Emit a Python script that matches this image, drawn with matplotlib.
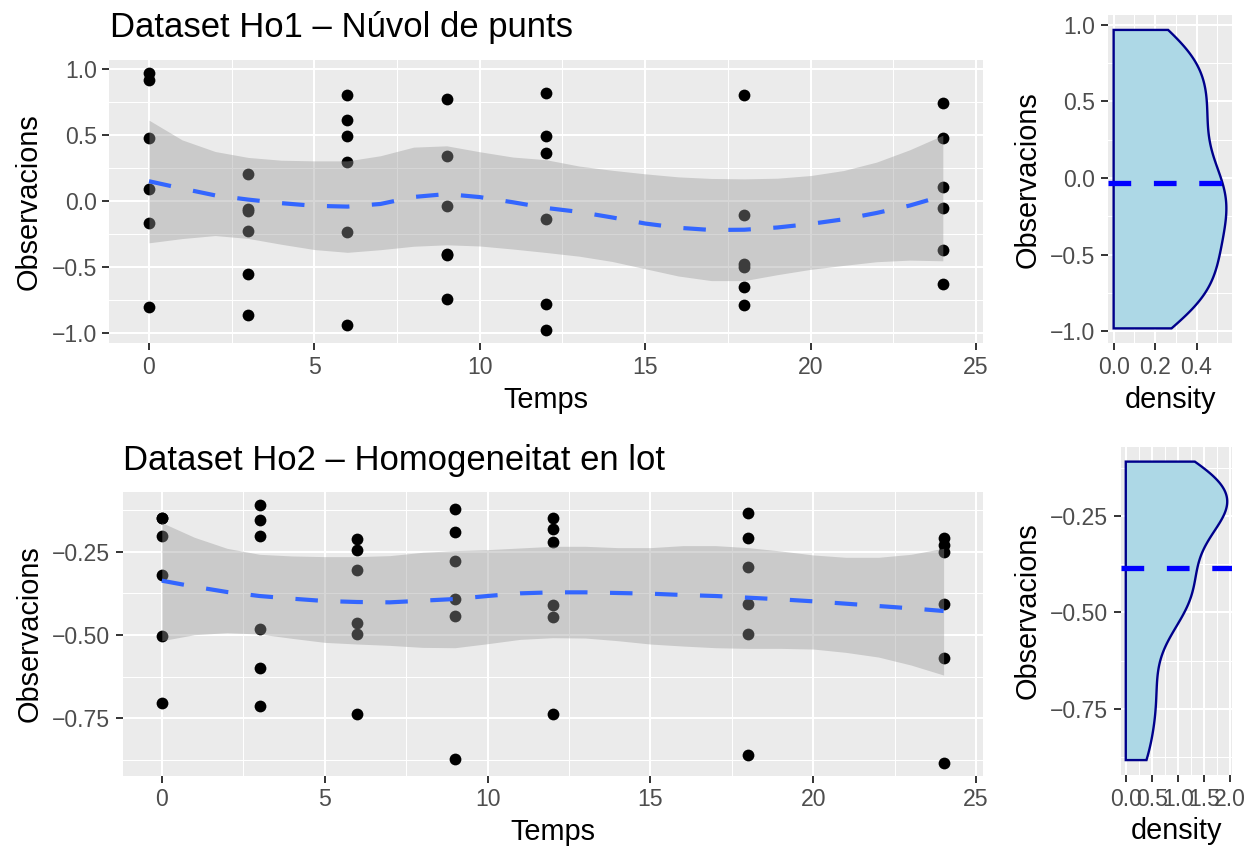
import numpy as np
import matplotlib
matplotlib.use("Agg")
import matplotlib.pyplot as plt
from matplotlib.ticker import MultipleLocator, FuncFormatter

plt.rcParams['font.family'] = ['Liberation Sans', 'DejaVu Sans']

# Temps de mesura
temps = [0, 3, 6, 9, 12, 18, 24]

# Dataset Ho1: observacions per cada temps
ho1_obs = [
    [0.967, 0.912, 0.475, 0.085, -0.168, -0.808],
    [0.203, -0.062, -0.082, -0.231, -0.556, -0.868],
    [0.800, 0.611, 0.486, 0.291, -0.238, -0.944],
    [0.773, 0.339, -0.042, -0.405, -0.415, -0.743],
    [0.811, 0.488, 0.362, -0.140, -0.785, -0.982],
    [0.803, -0.110, -0.480, -0.505, -0.652, -0.790],
    [0.740, 0.473, 0.104, -0.054, -0.377, -0.632],
]

# Dataset Ho2: observacions per cada temps
ho2_obs = [
    [-0.150, -0.150, -0.203, -0.320, -0.503, -0.703],
    [-0.109, -0.154, -0.203, -0.481, -0.599, -0.712],
    [-0.212, -0.245, -0.304, -0.464, -0.497, -0.737],
    [-0.122, -0.192, -0.278, -0.392, -0.443, -0.871],
    [-0.148, -0.182, -0.220, -0.409, -0.445, -0.736],
    [-0.134, -0.209, -0.295, -0.406, -0.496, -0.859],
    [-0.209, -0.230, -0.250, -0.406, -0.570, -0.883],
]

# Corba loess i interval de confianca (llegits del grafic)
smooth_x = list(range(25))
ho1_fit = [0.147, 0.092, 0.040, 0.008, -0.019, -0.039, -0.045, -0.025, 0.028, 0.050,
           0.027, -0.012, -0.055, -0.085, -0.127, -0.173, -0.205, -0.222, -0.220, -0.203,
           -0.176, -0.141, -0.093, -0.037, 0.036]
ho1_hi = [0.609, 0.460, 0.372, 0.327, 0.306, 0.301, 0.301, 0.340, 0.405, 0.415,
          0.370, 0.330, 0.310, 0.262, 0.230, 0.203, 0.180, 0.168, 0.165, 0.170,
          0.190, 0.228, 0.292, 0.385, 0.495]
ho1_lo = [-0.319, -0.287, -0.264, -0.286, -0.330, -0.370, -0.391, -0.371, -0.345, -0.334,
          -0.343, -0.366, -0.392, -0.420, -0.460, -0.515, -0.570, -0.605, -0.605, -0.560,
          -0.520, -0.490, -0.462, -0.450, -0.455]
ho2_fit = [-0.337, -0.355, -0.371, -0.383, -0.391, -0.398, -0.401, -0.402, -0.397, -0.392,
           -0.383, -0.375, -0.372, -0.372, -0.374, -0.376, -0.380, -0.383, -0.388, -0.393,
           -0.399, -0.406, -0.413, -0.420, -0.428]
ho2_hi = [-0.163, -0.207, -0.240, -0.258, -0.263, -0.265, -0.265, -0.262, -0.252, -0.247,
          -0.244, -0.239, -0.234, -0.234, -0.238, -0.238, -0.232, -0.232, -0.238, -0.248,
          -0.260, -0.267, -0.267, -0.258, -0.240]
ho2_lo = [-0.517, -0.499, -0.493, -0.497, -0.510, -0.522, -0.527, -0.531, -0.537, -0.538,
          -0.526, -0.513, -0.508, -0.509, -0.517, -0.527, -0.533, -0.538, -0.540, -0.540,
          -0.542, -0.552, -0.566, -0.590, -0.620]

W, H = 1257, 846
fig = plt.figure(figsize=(W / 100, H / 100), dpi=100)


def px_axes(left, top, right, bottom):
    return fig.add_axes([left / W, (H - bottom) / H, (right - left) / W, (bottom - top) / H])


def minus(fmt):
    return FuncFormatter(lambda v, p: (fmt % v).replace('-', '\u2212'))


def style(ax):
    ax.set_facecolor('#EBEBEB')
    for s in ax.spines.values():
        s.set_visible(False)
    ax.grid(which='major', color='white', lw=1.5)
    ax.grid(which='minor', color='white', lw=0.75)
    ax.set_axisbelow(True)
    ax.tick_params(which='major', length=5, width=1.4, color='#333333',
                   labelcolor='#4D4D4D', labelsize=16.6, pad=4)
    ax.tick_params(which='minor', length=0)


def expand(lo, hi, f=0.05):
    d = (hi - lo) * f
    return lo - d, hi + d


def nrd0(x):
    sd = np.std(x, ddof=1)
    q75, q25 = np.percentile(x, [75, 25])
    return 0.9 * min(sd, (q75 - q25) / 1.34) * len(x) ** -0.2


def kde(x, grid):
    bw = nrd0(x)
    z = (grid[:, None] - x[None, :]) / bw
    return np.exp(-0.5 * z ** 2).sum(1) / (len(x) * bw * np.sqrt(2 * np.pi))


def scatter_panel(ax, obs, fit, lo, hi, ymaj, yfmt):
    style(ax)
    for t, vals in zip(temps, obs):
        ax.scatter([t] * len(vals), vals, s=72, color='black', lw=0, zorder=2)
    ax.fill_between(smooth_x, lo, hi, color='#999999', alpha=0.4, lw=0, zorder=3)
    ax.plot(smooth_x, fit, color='#3366FF', lw=3, dashes=(5.4, 5.4), zorder=4)
    allv = np.concatenate(obs)
    ax.set_xlim(*expand(0, 24))
    ax.set_ylim(*expand(min(allv.min(), min(lo)), max(allv.max(), max(hi))))
    ax.xaxis.set_major_locator(MultipleLocator(5))
    ax.xaxis.set_minor_locator(MultipleLocator(2.5))
    ax.yaxis.set_major_locator(MultipleLocator(ymaj))
    ax.yaxis.set_minor_locator(MultipleLocator(ymaj / 2))
    ax.yaxis.set_major_formatter(minus(yfmt))
    ax.set_xlabel('Temps', fontsize=20.8, labelpad=5)
    ax.set_ylabel('Observacions', fontsize=20.8, labelpad=6)


def density_panel(ax, obs, xmaj, ymaj, yfmt):
    style(ax)
    allv = np.concatenate(obs)
    grid = np.linspace(allv.min(), allv.max(), 512)
    d = kde(allv, grid)
    px = np.concatenate([[0], d, [0]])
    py = np.concatenate([[grid[0]], grid, [grid[-1]]])
    ax.fill(px, py, facecolor='#ADD8E6', edgecolor='#00008B', lw=1.7, zorder=2)
    ax.axhline(allv.mean(), color='#0000FF', lw=3.8, dashes=(4.3, 4.3), zorder=3)
    ax.set_xlim(*expand(0, d.max()))
    ax.set_ylim(*expand(allv.min(), allv.max()))
    ax.xaxis.set_major_locator(MultipleLocator(xmaj))
    ax.xaxis.set_minor_locator(MultipleLocator(xmaj / 2))
    ax.xaxis.set_major_formatter(minus('%.1f'))
    ax.yaxis.set_major_locator(MultipleLocator(ymaj))
    ax.yaxis.set_minor_locator(MultipleLocator(ymaj / 2))
    ax.yaxis.set_major_formatter(minus(yfmt))
    ax.set_xlabel('density', fontsize=20.8, labelpad=5)
    ax.set_ylabel('Observacions', fontsize=20.8, labelpad=6)


ax1 = px_axes(109.3, 60, 982.5, 343.3)
scatter_panel(ax1, ho1_obs, ho1_fit, ho1_lo, ho1_hi, 0.5, '%.1f')
ax2 = px_axes(1108, 15, 1232, 343.3)
density_panel(ax2, ho1_obs, 0.2, 0.5, '%.1f')

ax3 = px_axes(122.7, 491.7, 982.7, 775.7)
scatter_panel(ax3, ho2_obs, ho2_fit, ho2_lo, ho2_hi, 0.25, '%.2f')
ax4 = px_axes(1120.7, 446.7, 1232.3, 775)
density_panel(ax4, ho2_obs, 0.5, 0.25, '%.2f')

fig.text(110 / W, 1 - 36.7 / H, 'Dataset Ho1 \u2013 Núvol de punts', fontsize=24.9, va='baseline')
fig.text(123 / W, 1 - 470 / H, 'Dataset Ho2 \u2013 Homogeneitat en lot', fontsize=24.9, va='baseline')

fig.savefig('out.png', dpi=100)
